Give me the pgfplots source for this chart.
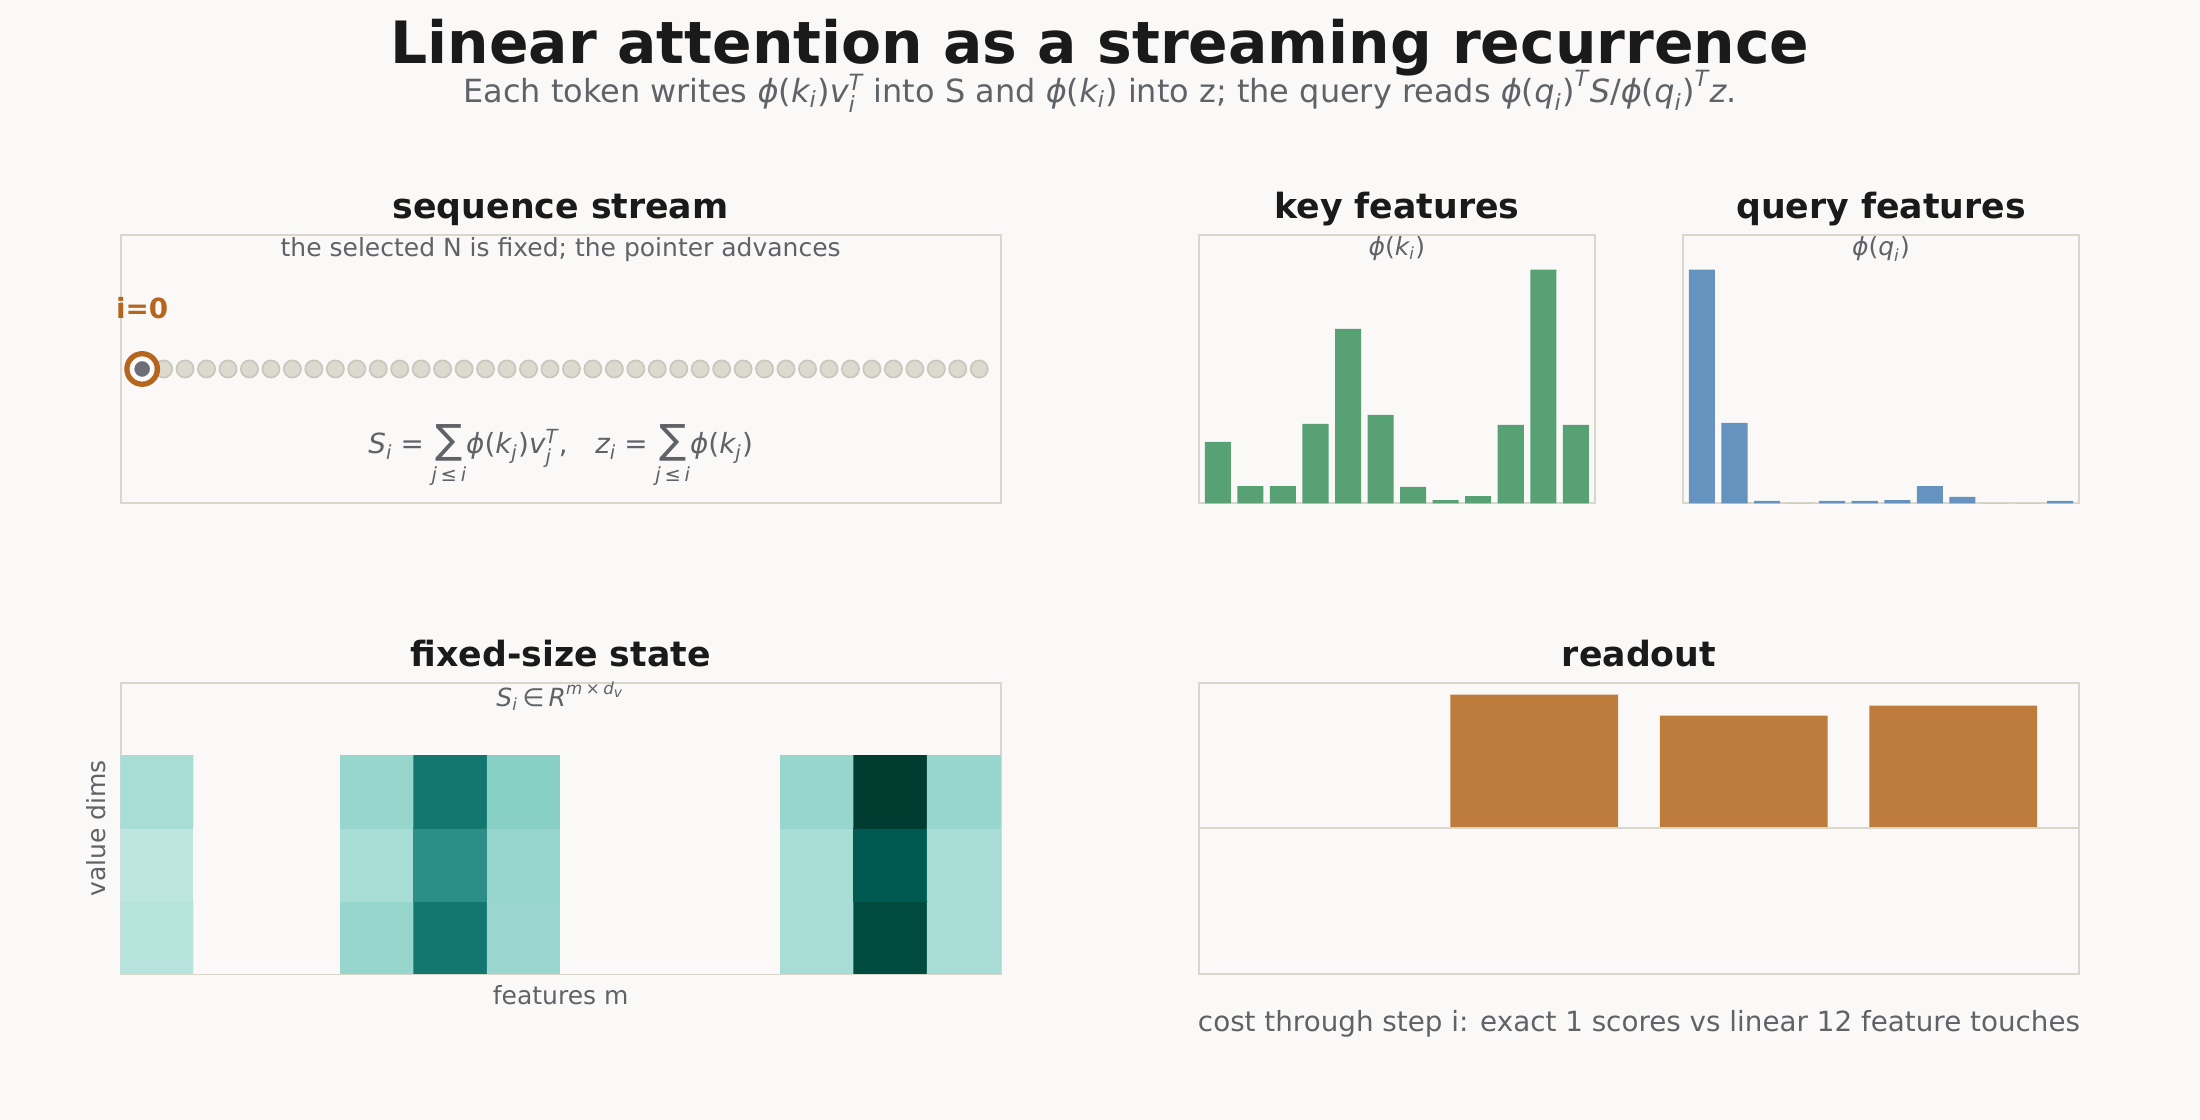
\documentclass[border=0pt]{standalone}
\usepackage{fontspec}
\setmainfont{DejaVu Sans}
\usepackage{amsmath}
\usepackage{pgfplots}
\pgfplotsset{compat=1.18}
\definecolor{bg}{RGB}{250,249,247}
\definecolor{framec}{RGB}{217,215,203}
\definecolor{titlec}{RGB}{26,26,26}
\definecolor{graytext}{RGB}{95,99,104}
\definecolor{keyg}{RGB}{87,161,117}
\definecolor{qblue}{RGB}{102,146,192}
\definecolor{readc}{RGB}{189,123,60}
\definecolor{ptr}{RGB}{181,101,29}
\definecolor{dotfill}{RGB}{220,217,206}
\definecolor{dotedge}{RGB}{201,198,188}
\definecolor{selgray}{RGB}{107,112,120}
\newcommand{\mv}[1]{\text{\itshape #1}}
\newcommand{\teq}{\mathrel{\text{=}}}
\newcommand{\bigsum}{\mathop{\text{\fontsize{14.5}{15}\selectfont ∑}}\limits}
\pgfplotsset{
  colormap={brbgt}{rgb255=(250,249,247) rgb255=(199,234,229) rgb255=(128,205,193) rgb255=(53,151,143) rgb255=(1,102,94) rgb255=(0,60,48)},
  panel/.style={scale only axis, anchor=south west, xtick=\empty, ytick=\empty,
    axis line style={draw=framec, line width=0.75pt}, clip mode=individual},
}
\tikzset{
  ptitle/.style={anchor=base, yshift=5.9pt, text=titlec, font=\fontsize{12.5}{15}\selectfont\bfseries},
  psub/.style={anchor=base, text=graytext, font=\fontsize{9}{11}\selectfont},
}
\begin{document}
\begin{tikzpicture}
\fill[bg] (0pt,0pt) rectangle (792pt,403.2pt);
\useasboundingbox (0pt,0pt) rectangle (792pt,403.2pt);
\node[anchor=base, text=titlec, font=\fontsize{21}{25}\selectfont\bfseries] at (396pt,380.4pt) {Linear attention as a streaming recurrence};
\node[anchor=base, text=graytext, font=\fontsize{11.5}{14}\selectfont] at (396pt,366.4pt) {Each token writes $\mv{ϕ}\text{(}\mv{k}_{\mv{i}}\text{)}\mv{v}_{\mv{i}}^{\mv{T}}$ into S and $\mv{ϕ}\text{(}\mv{k}_{\mv{i}}\text{)}$ into z; the query reads $\mv{ϕ}\text{(}\mv{q}_{\mv{i}}\text{)}^{\mv{T}}\mv{S}\text{/}\mv{ϕ}\text{(}\mv{q}_{\mv{i}}\text{)}^{\mv{T}}\mv{z}$.};

% sequence stream
\begin{axis}[panel, at={(43.45pt,222.01pt)}, width=316.8pt, height=96.7pt, xmin=-1, xmax=40, ymin=-1, ymax=1]
\addplot[only marks, mark=*, mark size=3.1pt, mark options={fill=dotfill, draw=dotedge, line width=0.6pt}] coordinates {
(1,0)(2,0)(3,0)(4,0)(5,0)(6,0)(7,0)(8,0)(9,0)(10,0)(11,0)(12,0)(13,0)(14,0)(15,0)(16,0)(17,0)(18,0)(19,0)(20,0)
(21,0)(22,0)(23,0)(24,0)(25,0)(26,0)(27,0)(28,0)(29,0)(30,0)(31,0)(32,0)(33,0)(34,0)(35,0)(36,0)(37,0)(38,0)(39,0)};
\addplot[only marks, mark=*, mark size=3.3pt, mark options={fill=selgray, draw=white, line width=0.9pt}] coordinates {(0,0)};
\addplot[only marks, mark=o, mark size=5.5pt, mark options={draw=ptr, line width=1.9pt, fill=none}] coordinates {(0,0)};
\node[anchor=center, text=ptr, font=\fontsize{10}{12}\selectfont\bfseries] at (axis cs:0,0.45) {i=0};
\node[ptitle] at (rel axis cs:0.5,1) {sequence stream};
\node[psub, yshift=-8.0pt] at (rel axis cs:0.5,1) {the selected N is fixed; the pointer advances};
\node[anchor=base, text=graytext, font=\fontsize{10}{12}\selectfont] at (axis cs:19.5,-0.633) {$\mv{S}_{\mv{i}} \teq \bigsum_{\mv{j}\,\text{≤}\,\mv{i}}\! \mv{ϕ}\text{(}\mv{k}_{\mv{j}}\text{)}\mv{v}_{\mv{j}}^{\mv{T}}\text{,}\quad \mv{z}_{\mv{i}} \teq \bigsum_{\mv{j}\,\text{≤}\,\mv{i}}\! \mv{ϕ}\text{(}\mv{k}_{\mv{j}}\text{)}$};
\end{axis}

% key features
\begin{axis}[panel, at={(431.64pt,222.01pt)}, width=142.45pt, height=96.7pt, xmin=-0.58, xmax=11.58, ymin=0, ymax=1.15]
\addplot[ybar, bar width=0.8, fill=keyg, draw=none] coordinates {
(0,0.263)(1,0.074)(2,0.074)(3,0.34)(4,0.747)(5,0.379)(6,0.07)(7,0.014)(8,0.031)(9,0.336)(10,1.0)(11,0.336)};
\node[ptitle] at (rel axis cs:0.5,1) {key features};
\node[psub, yshift=-7.4pt] at (rel axis cs:0.5,1) {$\mv{ϕ}\text{(}\mv{k}_{\mv{i}}\text{)}$};
\end{axis}

% query features
\begin{axis}[panel, at={(605.88pt,222.01pt)}, width=142.56pt, height=96.7pt, xmin=-0.58, xmax=11.58, ymin=0, ymax=1.15]
\addplot[ybar, bar width=0.8, fill=qblue, draw=none] coordinates {
(0,1.0)(1,0.344)(2,0.01)(3,0)(4,0.01)(5,0.01)(6,0.014)(7,0.074)(8,0.027)(9,0)(10,0)(11,0.01)};
\node[ptitle] at (rel axis cs:0.5,1) {query features};
\node[psub, yshift=-7.4pt] at (rel axis cs:0.5,1) {$\mv{ϕ}\text{(}\mv{q}_{\mv{i}}\text{)}$};
\end{axis}

% fixed-size state
\begin{axis}[panel, at={(43.45pt,52.67pt)}, width=316.8pt, height=104.65pt, xmin=-0.5, xmax=11.5, ymin=-0.5, ymax=3.5,
  colormap name=brbgt, point meta min=0, point meta max=1]
\addplot[matrix plot*, mesh/cols=12, point meta=explicit] table[x=x, y=y, meta=c] {
x y c
0 0 0.248
1 0 0
2 0 0
3 0 0.338
4 0 0.73
5 0 0.33
6 0 0
7 0 0
8 0 0
9 0 0.29
10 0 0.93
11 0 0.29
0 1 0.225
1 1 0
2 1 0
3 1 0.287
4 1 0.635
5 1 0.338
6 1 0
7 1 0
8 1 0
9 1 0.29
10 1 0.857
11 1 0.29
0 2 0.29
1 2 0
2 2 0
3 2 0.338
4 2 0.73
5 2 0.378
6 2 0
7 2 0
8 2 0
9 2 0.338
10 2 1.0
11 2 0.338
};
\node[ptitle] at (rel axis cs:0.5,1) {fixed-size state};
\node[psub, yshift=-8.3pt] at (rel axis cs:0.5,1) {$\mv{S}_{\mv{i}}\,\text{∈}\,\mv{R}^{\mv{m}\,\text{×}\,\mv{d}_{\mv{v}}}$};
\node[psub, yshift=-11pt] at (rel axis cs:0.5,0) {features m};
\node[psub, rotate=90, yshift=5.3pt] at (rel axis cs:0,0.5) {value dims};
\end{axis}

% readout
\begin{axis}[panel, at={(431.64pt,52.67pt)}, width=316.8pt, height=104.65pt, xmin=-0.6, xmax=3.6, ymin=-1, ymax=1]
\addplot[ybar, bar width=0.8, fill=readc, draw=none] coordinates {(0,0)(1,0.92)(2,0.775)(3,0.844)};
\draw[framec, line width=0.75pt] (rel axis cs:0,0.5) -- (rel axis cs:1,0.5);
\node[ptitle] at (rel axis cs:0.5,1) {readout};
\node[anchor=base, text=graytext, font=\fontsize{10}{12}\selectfont, yshift=-20.7pt] at (rel axis cs:0.5,0) {cost through step i: exact 1 scores vs linear 12 feature touches};
\end{axis}
\end{tikzpicture}
\end{document}
